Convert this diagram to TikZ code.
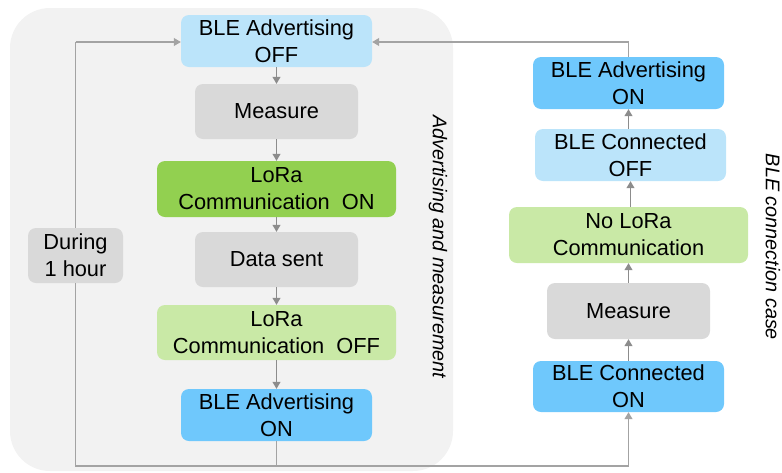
\documentclass[tikz,border=0pt]{standalone}
\usepackage{fontspec}
\setmainfont{Liberation Sans}
\usetikzlibrary{arrows.meta}
\definecolor{bg}{HTML}{F2F2F2}
\definecolor{lblue}{HTML}{BBE4FA}
\definecolor{dblue}{HTML}{6FC8FC}
\definecolor{dgreen}{HTML}{92D050}
\definecolor{lgreen}{HTML}{C9E9A6}
\definecolor{gbox}{HTML}{D9D9D9}
\definecolor{lnc}{HTML}{8C8C8C}
\begin{document}
\begin{tikzpicture}[x=1pt,y=-1pt,
  box/.style={rounded corners=8pt,align=center,inner sep=0pt,font=\fontsize{21.8}{27}\selectfont},
  w1/.style={minimum width=191pt,minimum height=52pt},
  w2/.style={minimum width=163pt,minimum height=55pt},
  w3/.style={minimum width=239pt,minimum height=56pt},
  conn/.style={draw=lnc,line width=1.1pt,-{Triangle[length=7pt,width=8pt]}},
  loop/.style={draw=lnc!80,line width=1.1pt},
  side/.style={rotate=-90,font=\fontsize{19.8}{23}\selectfont\itshape}]
\useasboundingbox (0,0) rectangle (782,472);
\fill[bg,rounded corners=40pt] (10,8) rectangle (453,471);
% left column
\node[box,w1,fill=lblue] (advoff) at (276.5,41) {BLE Advertising\\OFF};
\node[box,w2,fill=gbox] (meas1) at (276.5,111.5) {Measure};
\node[box,w3,fill=dgreen] (loraon) at (276.5,189) {LoRa\\Communication\ \ ON};
\node[box,w2,fill=gbox] (data) at (276.5,259.5) {Data sent};
\node[box,w3,fill=lgreen,minimum height=55pt] (loraoff) at (276.5,332.5) {LoRa\\Communication\ \ OFF};
\node[box,w1,fill=dblue] (advon) at (276.5,415) {BLE Advertising\\ON};
\node[box,minimum width=95pt,minimum height=55pt,fill=gbox] (during) at (75.5,255.5) {During\\1 hour};
% right column
\node[box,w1,fill=dblue] (radvon) at (628.5,83) {BLE Advertising\\ON};
\node[box,w1,fill=lblue] (rconoff) at (630.5,155) {BLE Connected\\OFF};
\node[box,w3,fill=lgreen] (nolora) at (628.5,235) {No LoRa\\Communication};
\node[box,w2,minimum height=56pt,fill=gbox] (rmeas) at (628.5,311) {Measure};
\node[box,w1,minimum height=51pt,fill=dblue] (rconon) at (628.5,386.5) {BLE Connected\\ON};
% side labels
\node[side] (lab1) at (438,247) {Advertising and measurement};
\node[side] (lab2) at (773,247) {BLE connection case};
% arrows left column
\draw[conn] (advoff) -- (meas1);
\draw[conn] (meas1) -- (loraon);
\draw[conn] (loraon) -- (data);
\draw[conn] (data) -- (loraoff);
\draw[conn] (loraoff) -- (advon);
% arrows right column
\draw[conn] (rconon) -- (rmeas);
\draw[conn] (rmeas) -- (nolora);
\draw[conn] (nolora.north -| rconoff) -- (rconoff);
\draw[conn] (rconoff.north -| radvon) -- (radvon);
% loops
\coordinate (bl) at (75.5,466);
\coordinate (br) at (628.5,466);
\coordinate (tl) at (75.5,42);
\coordinate (tr) at (628.5,42);
\draw[loop] (advon.south) -- (advon.south |- bl);
\draw[loop] (during.south) -- (bl) -- (br);
\draw[conn,draw=lnc!80] (br) -- (rconon.south);
\draw[loop] (during.north) -- (tl);
\draw[conn,draw=lnc!80] (tl) -- (advoff.west |- tl);
\draw[loop] (radvon.north) -- (tr);
\draw[conn,draw=lnc!80] (tr) -- (advoff.east |- tr);
\end{tikzpicture}
\end{document}
